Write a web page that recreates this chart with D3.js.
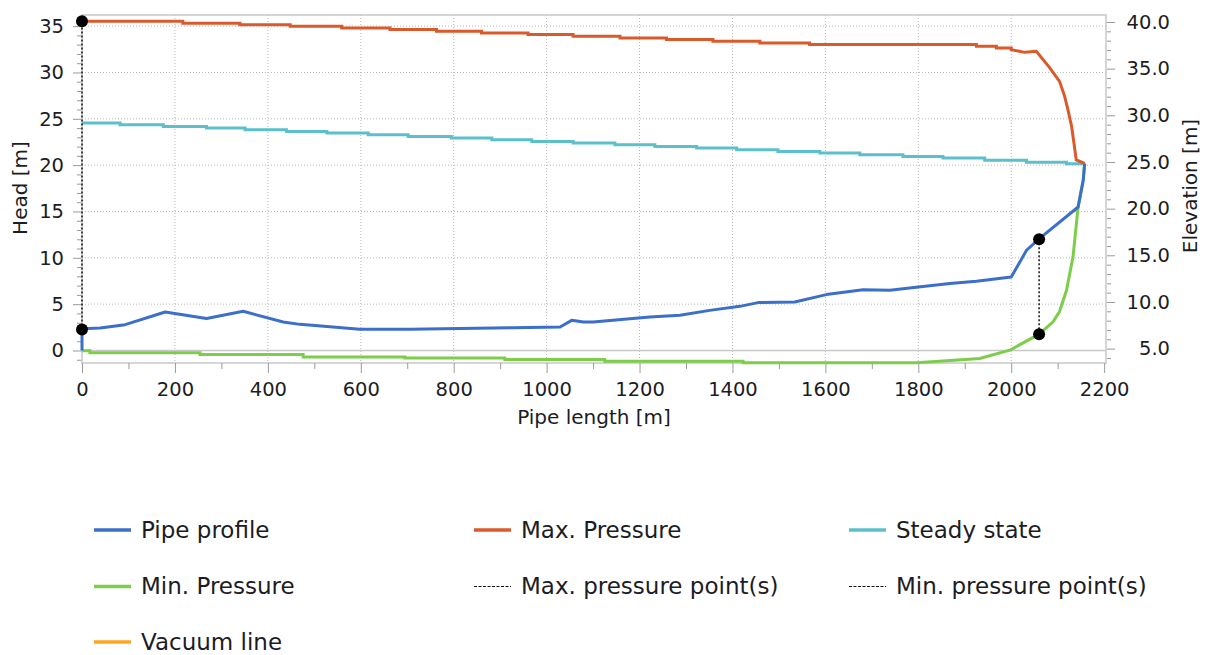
<!DOCTYPE html>
<html>
<head>
<meta charset="utf-8">
<script src="https://cdn.jsdelivr.net/npm/d3@7"></script>
<style>
  body { margin: 0; background: #fff; }
  text { font-family: "DejaVu Sans", Verdana, sans-serif; fill: #1c1c24; }
</style>
</head>
<body>
<svg width="1205" height="655"></svg>
<script>
// ---- data ----
// pipe profile (elevation axis, right)
const pipeX    = [0, 0, 39, 93, 179, 268, 347, 433, 469, 598, 706, 928, 1029, 1054, 1079, 1100, 1222, 1287, 1351, 1416,
                  1455, 1534, 1602, 1681, 1739, 1800, 1868, 1925, 2000, 2033, 2058, 2144, 2155, 2158];
const pipeElev = [4.79, 7.14, 7.21, 7.57, 8.92, 8.22, 9.0, 7.85, 7.60, 7.07, 7.07, 7.25, 7.32, 8.03, 7.85, 7.85, 8.39, 8.57, 9.10, 9.53,
                  9.93, 9.99, 10.79, 11.32, 11.25, 11.60, 11.97, 12.21, 12.67, 15.54, 16.68, 20.18, 23.04, 24.81];

// max pressure (head axis): stair part + tail
const maxStepX    = [0, 217, 340, 448, 559, 663, 763, 860, 960, 1057, 1158, 1258, 1358, 1459, 1566, 1925, 1968];
const maxStepHead = [35.52, 35.31, 35.15, 34.98, 34.81, 34.63, 34.44, 34.27, 34.09, 33.90, 33.73, 33.55, 33.36, 33.19, 33.01, 32.82, 32.65];
const maxTailX    = [2000, 2029, 2054, 2083, 2104, 2115, 2122, 2130, 2135, 2140, 2158];
const maxTailHead = [32.46, 32.17, 32.28, 30.49, 29.04, 27.42, 25.98, 24.17, 22.38, 20.57, 20.19];

// steady state (head axis)
const steadyStepX    = [0, 82, 175, 268, 351, 440, 527, 616, 702, 795, 882, 968, 1057, 1147, 1233, 1323, 1409, 1498, 1588, 1674,
                        1767, 1853, 1943, 2033, 2119];
const steadyStepHead = [24.54, 24.36, 24.17, 24.00, 23.82, 23.63, 23.46, 23.28, 23.09, 22.92, 22.73, 22.55, 22.38, 22.19, 22.01,
                        21.84, 21.65, 21.47, 21.30, 21.11, 20.93, 20.76, 20.54, 20.30, 20.16];
const steadyEnd = [2158, 20.19];

// min pressure (head axis)
const minStepX    = [0, 17, 254, 476, 695, 910, 1125, 1423];
const minStepHead = [-0.02, -0.24, -0.43, -0.69, -0.81, -0.97, -1.16, -1.32];
const minTailX    = [1796, 1861, 1932, 1997, 2060, 2090, 2104, 2119, 2133, 2144, 2155, 2158];
const minTailHead = [-1.32, -1.12, -0.86, 0.03, 1.76, 3.09, 4.2, 6.5, 10.1, 15.5, 18.4, 20.19];

// vacuum line (head axis) - below the visible range
const vacuumX = [0, 2158];
const vacuumHead = [-10, -10];

// max / min pressure points: [x, head at pipe, head at envelope]
const maxPoints = [[0, 2.27, 35.52]];
const minPoints = [[2060, 12.0, 1.76]];

// ticks
const xTicks = [0, 200, 400, 600, 800, 1000, 1200, 1400, 1600, 1800, 2000, 2200];
const headTicks = [0, 5, 10, 15, 20, 25, 30, 35];
const elevTicks = [5, 10, 15, 20, 25, 30, 35, 40];

const legendItems = [
  { name: 'Pipe profile', color: '#3b6fca', dash: null },
  { name: 'Max. Pressure', color: '#da5a2c', dash: null },
  { name: 'Steady state', color: '#5cbfcc', dash: null },
  { name: 'Min. Pressure', color: '#7ccd4a', dash: null },
  { name: 'Max. pressure point(s)', color: '#111', dash: '3,1.5' },
  { name: 'Min. pressure point(s)', color: '#111', dash: '3,1.5' },
  { name: 'Vacuum line', color: '#ffa620', dash: null }
];

// ---- layout ----
const svg = d3.select('svg');
const pLeft = 82, pRight = 1106, pTop = 15, pBottom = 363;

const x = d3.scaleLinear().domain([0, 2204]).range([pLeft, pRight]);
const yHead = d3.scaleLinear().domain([-1.35, 36.2]).range([pBottom, pTop]);
const yElev = d3.scaleLinear().domain([3.46, 40.75]).range([pBottom, pTop]);

svg.append('defs').append('clipPath').attr('id', 'plotclip')
  .append('rect')
  .attr('x', pLeft - 4).attr('y', pTop - 4)
  .attr('width', pRight - pLeft + 8).attr('height', pBottom - pTop + 6);

// gridlines
const grid = svg.append('g');
grid.selectAll('.vg').data(xTicks.filter(d => d > 0 && d < 2200)).join('line')
  .attr('x1', d => x(d)).attr('x2', d => x(d))
  .attr('y1', pTop).attr('y2', pBottom)
  .attr('stroke', '#b8b8b8').attr('stroke-dasharray', '1,2');
grid.selectAll('.hg').data(headTicks.filter(d => d > 0)).join('line')
  .attr('x1', pLeft).attr('x2', pRight)
  .attr('y1', d => yHead(d)).attr('y2', d => yHead(d))
  .attr('stroke', '#b8b8b8').attr('stroke-dasharray', '1,2');

// zero head line
svg.append('line')
  .attr('x1', pLeft).attr('x2', pRight)
  .attr('y1', yHead(0)).attr('y2', yHead(0))
  .attr('stroke', '#c8c8c8').attr('stroke-width', 1.5);

// border
svg.append('rect')
  .attr('x', pLeft).attr('y', pTop)
  .attr('width', pRight - pLeft).attr('height', pBottom - pTop)
  .attr('fill', 'none').attr('stroke', '#c8c8c8').attr('stroke-width', 1.5);

// axes
function styleAxis(g) {
  g.select('.domain').remove();
  g.selectAll('.tick line').attr('stroke', '#9a9a9a');
  g.selectAll('.tick text').style('font-size', '19.5px').attr('fill', '#1c1c24');
}

const xAxis = svg.append('g').attr('transform', `translate(0,${pBottom})`)
  .call(d3.axisBottom(x).tickValues(xTicks).tickFormat(d3.format('d')).tickSize(10).tickPadding(9));
styleAxis(xAxis);
const xMinor = svg.append('g').attr('transform', `translate(0,${pBottom})`)
  .call(d3.axisBottom(x).tickValues(d3.range(100, 2200, 200)).tickFormat('').tickSize(6));
styleAxis(xMinor);

const yAxisL = svg.append('g').attr('transform', `translate(${pLeft - 1},0)`)
  .call(d3.axisLeft(yHead).tickValues(headTicks).tickSize(8).tickPadding(9));
styleAxis(yAxisL);
const yMinorL = svg.append('g').attr('transform', `translate(${pLeft - 1},0)`)
  .call(d3.axisLeft(yHead).tickValues(d3.range(-1, 37).filter(d => d % 5 !== 0)).tickFormat('').tickSize(4));
styleAxis(yMinorL);

const yAxisR = svg.append('g').attr('transform', `translate(${pRight + 1},0)`)
  .call(d3.axisRight(yElev).tickValues(elevTicks).tickFormat(d3.format('.1f')).tickSize(8));
styleAxis(yAxisR);
yAxisR.selectAll('.tick text').attr('text-anchor', 'end').attr('x', 63);
const yMinorR = svg.append('g').attr('transform', `translate(${pRight + 1},0)`)
  .call(d3.axisRight(yElev).tickValues(d3.range(4, 41).filter(d => d % 5 !== 0)).tickFormat('').tickSize(4));
styleAxis(yMinorR);

// axis titles
svg.append('text').attr('x', (pLeft + pRight) / 2).attr('y', 424)
  .attr('text-anchor', 'middle').style('font-size', '20px').text('Pipe length [m]');
svg.append('text').attr('transform', 'translate(27,188) rotate(-90)')
  .attr('text-anchor', 'middle').style('font-size', '20px').text('Head [m]');
svg.append('text').attr('transform', 'translate(1197,186) rotate(-90)')
  .attr('text-anchor', 'middle').style('font-size', '20px').text('Elevation [m]');

// ---- series ----
function stairs(xs, vs, endX) {
  const out = [];
  xs.forEach((d, i) => {
    out.push([d, vs[i]]);
    const next = i < xs.length - 1 ? xs[i + 1] : endX;
    out.push([next, vs[i]]);
  });
  return out;
}

const lineHead = d3.line().x(d => x(d[0])).y(d => yHead(d[1]));
const lineElev = d3.line().x(d => x(d[0])).y(d => yElev(d[1]));

const plot = svg.append('g').attr('clip-path', 'url(#plotclip)');

const steadyPts = stairs(steadyStepX, steadyStepHead, steadyEnd[0]).concat([steadyEnd]);
const minPts = stairs(minStepX, minStepHead, minTailX[0]).concat(minTailX.map((d, i) => [d, minTailHead[i]]));
const pipePts = pipeX.map((d, i) => [d, pipeElev[i]]);
const maxPts = stairs(maxStepX, maxStepHead, maxTailX[0]).concat(maxTailX.map((d, i) => [d, maxTailHead[i]]));
const vacPts = vacuumX.map((d, i) => [d, vacuumHead[i]]);

plot.append('path').attr('d', lineHead(vacPts))
  .attr('fill', 'none').attr('stroke', legendItems[6].color).attr('stroke-width', 3);
plot.append('path').attr('d', lineHead(steadyPts))
  .attr('fill', 'none').attr('stroke', legendItems[2].color).attr('stroke-width', 3);
plot.append('path').attr('d', lineHead(minPts))
  .attr('fill', 'none').attr('stroke', legendItems[3].color).attr('stroke-width', 3);
plot.append('path').attr('d', lineElev(pipePts))
  .attr('fill', 'none').attr('stroke', legendItems[0].color).attr('stroke-width', 3)
  .attr('stroke-linejoin', 'round');
plot.append('path').attr('d', lineHead(maxPts))
  .attr('fill', 'none').attr('stroke', legendItems[1].color).attr('stroke-width', 3);

// pressure points
const pointsG = svg.append('g');
maxPoints.concat(minPoints).forEach(p => {
  pointsG.append('line')
    .attr('x1', x(p[0])).attr('x2', x(p[0]))
    .attr('y1', yHead(p[1])).attr('y2', yHead(p[2]))
    .attr('stroke', '#111').attr('stroke-width', 1.5).attr('stroke-dasharray', '2,2');
  [p[1], p[2]].forEach(v => {
    pointsG.append('circle').attr('cx', x(p[0])).attr('cy', yHead(v)).attr('r', 6).attr('fill', '#000');
  });
});

// ---- legend ----
const colX = [94, 474, 849];
const rowY = [529, 585.5, 641];
const legend = svg.append('g');
legendItems.forEach((d, i) => {
  const cx = colX[i % 3], cy = rowY[Math.floor(i / 3)];
  legend.append('line')
    .attr('x1', cx).attr('x2', cx + 37).attr('y1', cy + 1).attr('y2', cy + 1)
    .attr('stroke', d.color)
    .attr('stroke-width', d.dash ? 1 : 3.5)
    .attr('stroke-dasharray', d.dash);
  legend.append('text')
    .attr('x', cx + 47).attr('y', cy + 8.5)
    .style('font-size', '23px')
    .text(d.name);
});
</script>
</body>
</html>
